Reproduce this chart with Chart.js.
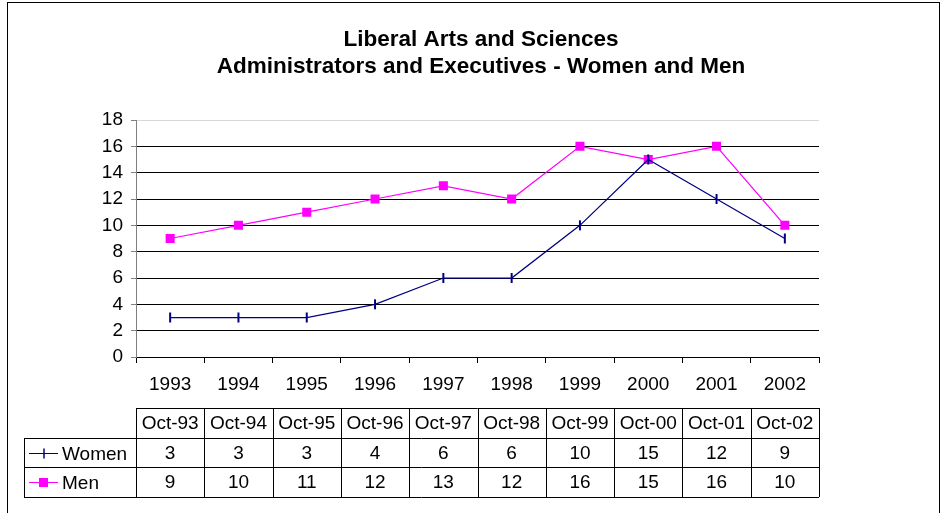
<!DOCTYPE html>
<html>
<head>
<meta charset="utf-8">
<script src="https://cdn.jsdelivr.net/npm/chart.js@4"></script>
<style>
  html, body { margin: 0; padding: 0; background: #fff; }
  #wrap { width: 943px; height: 513px; }
</style>
</head>
<body>
<div id="wrap"><canvas id="lasChart" width="943" height="513"></canvas></div>
<script>
const years = ['1993', '1994', '1995', '1996', '1997', '1998', '1999', '2000', '2001', '2002'];
const tableHeads = ['Oct-93', 'Oct-94', 'Oct-95', 'Oct-96', 'Oct-97', 'Oct-98', 'Oct-99', 'Oct-00', 'Oct-01', 'Oct-02'];
const women = [3, 3, 3, 4, 6, 6, 10, 15, 12, 9];
const men = [9, 10, 11, 12, 13, 12, 16, 15, 16, 10];
const yTicks = [0, 2, 4, 6, 8, 10, 12, 14, 16, 18];

const FONT = "'Liberation Sans', Arial, sans-serif";
const TXT = 19;

// frame around the whole chart + data table under the x axis
const tablePlugin = {
    id: 'dataTable',
    beforeDraw(chart) {
        const ctx = chart.ctx;
        ctx.save();
        ctx.fillStyle = '#fff';
        ctx.fillRect(0, 0, chart.width, chart.height);
        ctx.strokeStyle = '#000';
        ctx.lineWidth = 1;
        ctx.strokeRect(7.5, 2.5, 932, 530);
        ctx.restore();
    },
    afterDraw(chart) {
        const ctx = chart.ctx;
        const x = chart.scales.x;
        const n = years.length;
        const colW = (x.right - x.left) / n;
        const left = x.left, right = x.right;
        const labelLeft = 24;
        const rows = [408, 438, 467, 497];
        ctx.save();
        ctx.strokeStyle = '#000';
        ctx.lineWidth = 1;
        ctx.beginPath();
        // header row (only data columns)
        ctx.moveTo(left, rows[0] + 0.5); ctx.lineTo(right, rows[0] + 0.5);
        for (let r = 1; r < rows.length; r++) {
            ctx.moveTo(labelLeft, rows[r] + 0.5); ctx.lineTo(right, rows[r] + 0.5);
        }
        ctx.moveTo(labelLeft + 0.5, rows[1]); ctx.lineTo(labelLeft + 0.5, rows[3]);
        for (let i = 0; i <= n; i++) {
            const cx = Math.round(left + i * colW) + 0.5;
            ctx.moveTo(cx, rows[0]); ctx.lineTo(cx, rows[3]);
        }
        ctx.stroke();

        ctx.font = TXT + 'px ' + FONT;
        ctx.fillStyle = '#000';
        ctx.textAlign = 'center';
        ctx.textBaseline = 'middle';
        const series = [tableHeads, women, men];
        for (let r = 0; r < 3; r++) {
            const cy = (rows[r] + rows[r + 1]) / 2 + 1;
            for (let i = 0; i < n; i++) {
                ctx.fillText(String(series[r][i]), x.getPixelForValue(i), cy);
            }
        }

        // legend keys
        const keys = chart.data.datasets;
        for (let k = 0; k < keys.length; k++) {
            const cy = Math.round((rows[k + 1] + rows[k + 2]) / 2);
            const ds = keys[k];
            ctx.strokeStyle = ds.borderColor;
            ctx.lineWidth = 1;
            ctx.beginPath();
            ctx.moveTo(29, cy + 0.5); ctx.lineTo(58, cy + 0.5);
            ctx.stroke();
            if (ds.pointStyle === 'rect') {
                ctx.fillStyle = ds.borderColor;
                ctx.fillRect(39, cy - 4, 9, 9);
            } else {
                ctx.lineWidth = 1.5;
                ctx.beginPath();
                ctx.moveTo(44, cy - 4.5); ctx.lineTo(44, cy + 5.5);
                ctx.stroke();
            }
            ctx.fillStyle = '#000';
            ctx.textAlign = 'left';
            ctx.fillText(ds.label, 62, cy + 2);
        }
        ctx.restore();
    }
};

const canvas = document.getElementById('lasChart');
new Chart(canvas.getContext('2d'), {
    type: 'line',
    data: {
        labels: years,
        datasets: [
            {
                label: 'Women',
                data: women,
                borderColor: '#000080',
                backgroundColor: '#000080',
                borderWidth: 1.25,
                pointStyle: 'line',
                rotation: 90,
                pointRadius: 5,
                pointBorderWidth: 2,
                tension: 0
            },
            {
                label: 'Men',
                data: men,
                borderColor: '#FF00FF',
                backgroundColor: '#FF00FF',
                borderWidth: 1.25,
                pointStyle: 'rect',
                pointRadius: 6.4,
                pointBorderWidth: 0,
                tension: 0
            }
        ]
    },
    options: {
        responsive: false,
        animation: false,
        layout: { padding: { left: 19, right: 0, top: 0, bottom: 116 } },
        plugins: {
            legend: { display: false },
            tooltip: { enabled: false },
            title: {
                display: true,
                text: ['Liberal Arts and Sciences', 'Administrators and Executives - Women and Men'],
                color: '#000',
                font: { family: FONT, size: 22.5, weight: 'bold', lineHeight: 1.2 },
                padding: { top: 26, bottom: 40 }
            }
        },
        scales: {
            x: {
                offset: true,
                afterFit(scale) { scale.height = 40; },
                grid: { offset: true, drawOnChartArea: false, tickLength: 6, tickColor: '#000' },
                border: { color: '#000' },
                ticks: { color: '#000', padding: 10, font: { family: FONT, size: TXT } }
            },
            y: {
                min: 0,
                max: 18,
                afterFit(scale) { scale.width = 117; },
                afterBuildTicks(scale) { scale.ticks = yTicks.map(v => ({ value: v })); },
                grid: {
                    color: ctx => ctx.tick && ctx.tick.value === 18 ? '#d8d8d8' : '#000',
                    tickLength: 5,
                    tickColor: '#808080'
                },
                border: { color: '#808080' },
                ticks: { color: '#000', padding: 8, font: { family: FONT, size: TXT } }
            },
            // empty right-hand space (keeps plot right edge where the table ends)
            yRight: {
                position: 'right',
                min: 0,
                max: 18,
                afterFit(scale) { scale.width = 124; },
                grid: { drawOnChartArea: false, drawTicks: false },
                border: { display: false },
                ticks: { display: false }
            }
        }
    },
    plugins: [tablePlugin]
});
</script>
</body>
</html>
